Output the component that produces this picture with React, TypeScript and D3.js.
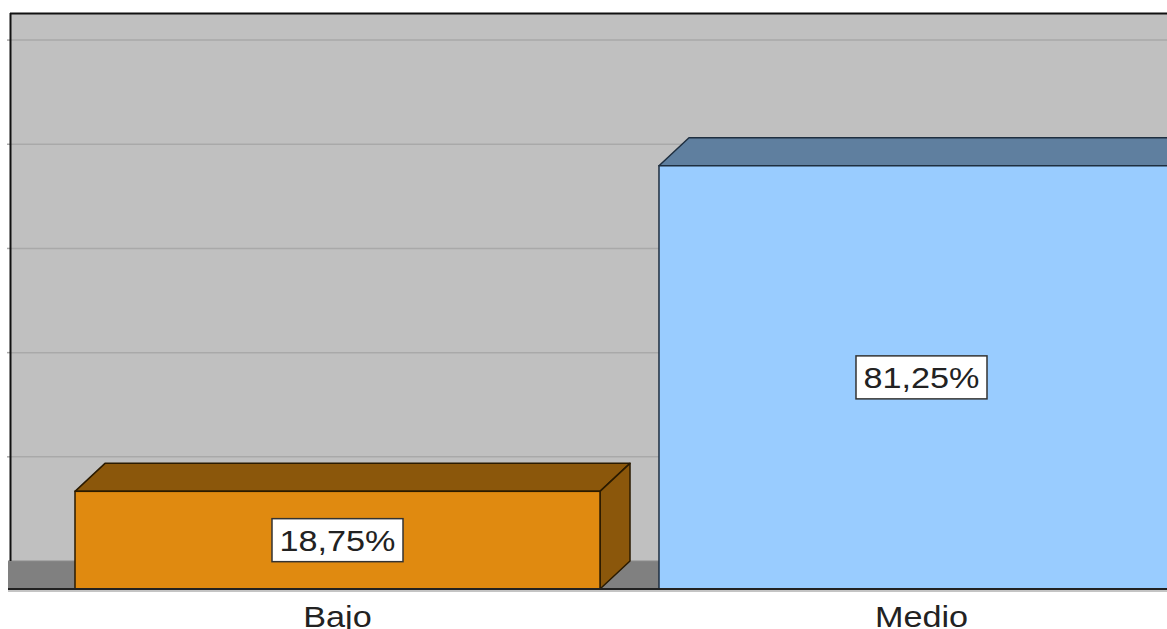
import React from "react";
import * as d3 from "d3";

const categories = ["Bajo", "Medio"];
const values = [18.75, 81.25];
const valueLabels = ["18,75%", "81,25%"];
const gridTicks = [0, 20, 40, 60, 80, 100];
const frontColors = ["#E08A10", "#99CCFF"];
const sideColors = ["#8B570B", "#5F7F9F"];
const edgeColors = ["#2a1a00", "#1f2f40"];

const W = 1167;
const H = 629;
const DX = 30;
const DY = 28;
const wallLeft = 10;
const wallTop = 13;
const wallBottom = 561;
const floorFront = wallBottom + DY;

export default function App() {
  const y = d3.scaleLinear().domain([0, 105.2]).range([wallBottom, wallTop]);
  const x = d3
    .scaleBand<string>()
    .domain(categories)
    .range([16.6, 1242.4])
    .paddingInner(0.101)
    .paddingOuter(0.1);
  const bw = x.bandwidth();
  const font = "'Liberation Sans', Arial, sans-serif";
  const sx = 1.14;

  return (
    <svg width={W} height={H} style={{ position: "absolute", left: 0, top: 0 }}>
      <rect x={0} y={0} width={W} height={H} fill="#ffffff" />
      {/* back wall */}
      <rect x={wallLeft} y={wallTop} width={W - wallLeft} height={wallBottom - wallTop} fill="#C0C0C0" />
      {gridTicks.slice(1).map((t) => (
        <g key={t}>
          <line x1={wallLeft} x2={W} y1={y(t)} y2={y(t)} stroke="#A9A9A9" strokeWidth={1.5} />
          <line x1={7} x2={wallLeft} y1={y(t)} y2={y(t)} stroke="#A9A9A9" strokeWidth={1.5} />
        </g>
      ))}
      {/* floor */}
      <rect x={8} y={wallBottom} width={W - 8} height={DY} fill="#808080" />
      <line x1={8} x2={W} y1={wallBottom} y2={wallBottom} stroke="#8a8a8a" strokeWidth={1} />
      {/* axis lines */}
      <line x1={wallLeft + 0.5} x2={wallLeft + 0.5} y1={wallTop} y2={wallBottom} stroke="#111" strokeWidth={2} />
      <line x1={wallLeft} x2={W} y1={wallTop + 0.5} y2={wallTop + 0.5} stroke="#111" strokeWidth={2} />
      {/* bars */}
      {categories.map((c, i) => {
        const x0 = x(c) as number;
        const x1 = x0 + bw;
        const yt = y(values[i]) + DY;
        const yb = floorFront;
        const edge = edgeColors[i];
        return (
          <g key={c}>
            <polygon
              points={`${x0},${yt} ${x0 + DX},${yt - DY} ${x1 + DX},${yt - DY} ${x1},${yt}`}
              fill={sideColors[i]}
              stroke={edge}
              strokeWidth={1.5}
              strokeLinejoin="round"
            />
            <polygon
              points={`${x1},${yt} ${x1 + DX},${yt - DY} ${x1 + DX},${yb - DY} ${x1},${yb}`}
              fill={sideColors[i]}
              stroke={edge}
              strokeWidth={1.5}
              strokeLinejoin="round"
            />
            <rect x={x0} y={yt} width={bw} height={yb - yt} fill={frontColors[i]} stroke={edge} strokeWidth={1.5} />
          </g>
        );
      })}
      {/* floor front line */}
      <line x1={8} x2={W} y1={floorFront} y2={floorFront} stroke="#222" strokeWidth={2} />
      <line x1={8} x2={W} y1={floorFront + 2} y2={floorFront + 2} stroke="#b0b0b0" strokeWidth={1.5} />
      {/* value labels */}
      {categories.map((c, i) => {
        const cx = (x(c) as number) + bw / 2;
        const yt = y(values[i]) + DY;
        const cy = (yt + floorFront) / 2;
        const bwid = 131;
        const bh = 43;
        return (
          <g key={"l" + c}>
            <rect x={cx - bwid / 2} y={cy - bh / 2} width={bwid} height={bh} fill="#ffffff" stroke="#333" strokeWidth={1.5} />
            <text
              transform={`translate(${cx},${cy + 11}) scale(${sx},1)`}
              textAnchor="middle"
              fontFamily={font}
              fontSize={30}
              fill="#222"
            >
              {valueLabels[i]}
            </text>
          </g>
        );
      })}
      {/* category labels */}
      {categories.map((c) => {
        const cx = (x(c) as number) + bw / 2;
        return (
          <text
            key={"c" + c}
            transform={`translate(${cx},627) scale(${sx},1)`}
            textAnchor="middle"
            fontFamily={font}
            fontSize={30}
            fill="#222"
          >
            {c}
          </text>
        );
      })}
    </svg>
  );
}
